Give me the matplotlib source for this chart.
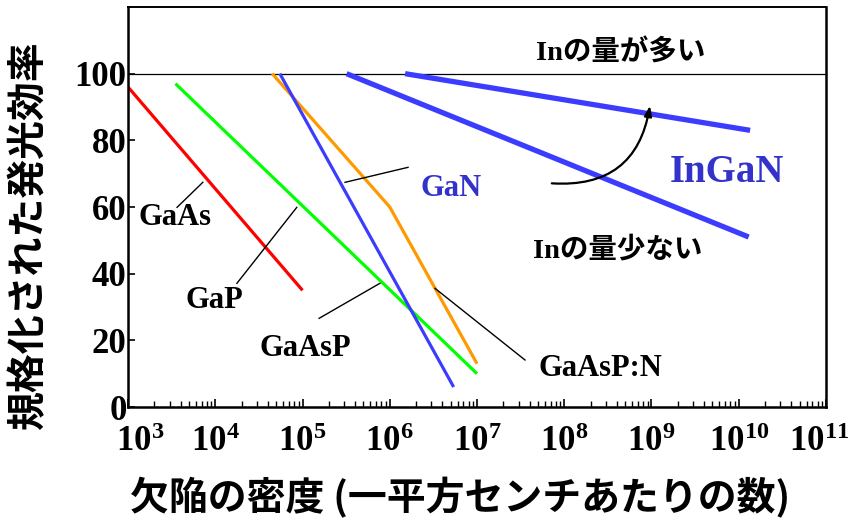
import matplotlib
matplotlib.use("Agg")
import matplotlib.pyplot as plt
import matplotlib.transforms as mtransforms
from matplotlib.ticker import FixedLocator, NullFormatter, LogLocator

plt.rcParams['mathtext.fontset'] = 'custom'
plt.rcParams['mathtext.rm'] = 'Liberation Serif:bold'
plt.rcParams['mathtext.bf'] = 'Liberation Serif:bold'
plt.rcParams['mathtext.it'] = 'Liberation Serif:bold'

# ---- data ----
gaas_x = [1e3, 1e5]
gaas_y = [96, 35]
gap_x = [3.5e3, 1e7]
gap_y = [97, 10]
gan_x = [5.5e4, 5.4e6]
gan_y = [100, 6]
gaaspn_x = [4.5e4, 1e6, 1e7]
gaaspn_y = [100, 60, 13]
ingan_low_x = [3.2e5, 1.3e10]
ingan_low_y = [100, 51]
ingan_high_x = [1.5e6, 1.35e10]
ingan_high_y = [100, 83]

x_ticks = [1e3, 1e4, 1e5, 1e6, 1e7, 1e8, 1e9, 1e10, 1e11]
x_exps = [3, 4, 5, 6, 7, 8, 9, 10, 11]
y_ticks = [0, 20, 40, 60, 80, 100]

serif = 'Liberation Serif'
cjk = 'Noto Sans CJK JP'
mixed = [serif, cjk]

fig = plt.figure(figsize=(8.53, 5.28), dpi=100)
ax = fig.add_axes([128/853, 1-407/528, (826-128)/853, (407-7)/528])
ax.set_xscale('log')
ax.set_xlim(1e3, 1e11)
ax.set_ylim(0, 120)

blue_line = '#3c3cff'
blue_text = '#3333cc'

ax.axhline(100, color='black', lw=0.9)

ax.plot(gaas_x, gaas_y, color='#ff0000', lw=2.3, solid_capstyle='butt')
ax.plot(gap_x, gap_y, color='#00ff00', lw=2.3, solid_capstyle='butt')
ax.plot(gaaspn_x, gaaspn_y, color='#ff9900', lw=2.3, solid_capstyle='butt')
ax.plot(gan_x, gan_y, color=blue_line, lw=2.3, solid_capstyle='butt')
ax.plot(ingan_low_x, ingan_low_y, color=blue_line, lw=3.8, solid_capstyle='butt')
ax.plot(ingan_high_x, ingan_high_y, color=blue_line, lw=3.8, solid_capstyle='butt')

# leader lines
leaders = [
    ((3.65e3, 59.9), (7.2e3, 67.4)),
    ((1.77e4, 37.1), (8.6e4, 59.9)),
    ((1.55e5, 26.6), (7.7e5, 37.1)),
    ((3.3e6, 35.6), (3.55e7, 14.1)),
    ((3.07e5, 67.4), (1.62e6, 71.9)),
]
for (p0, p1) in leaders:
    ax.plot([p0[0], p1[0]], [p0[1], p1[1]], color='black', lw=1.0)

# curved arrow
ax.annotate('', xy=(9.6e8, 90.4), xytext=(7.2e7, 67.1),
            arrowprops=dict(arrowstyle='-|>,head_length=0.6,head_width=0.22',
                            connectionstyle='arc3,rad=0.45', color='black', lw=1.6,
                            shrinkA=0, shrinkB=0))

tk = dict(ha='center', va='center', fontweight='bold')
ax.text(3.46e3, 56.9, 'GaAs', family=serif, fontsize=22, **tk)
ax.text(9.9e3, 32, 'GaP', family=serif, fontsize=22, **tk)
ax.text(1.07e5, 17.4, 'GaAsP', family=serif, fontsize=22, **tk)
ax.text(2.6e8, 11.7, 'GaAsP:N', family=serif, fontsize=22, **tk)
ax.text(5.0e6, 65.6, 'GaN', family=serif, fontsize=22, color=blue_text, **tk)
ax.text(7.3e9, 70.4, 'InGaN', family=serif, fontsize=28, color=blue_text, **tk)
ax.text(4.4e8, 106.3, 'Inの量が多い', family=mixed, fontsize=20.5, **tk)
ax.text(4.1e8, 47, 'Inの量少ない', family=mixed, fontsize=20.5, **tk)

# ticks
ax.xaxis.set_major_locator(FixedLocator(x_ticks))
ax.xaxis.set_minor_locator(LogLocator(base=10, subs=[2, 3, 4, 5, 6, 7, 8, 9], numticks=20))
ax.xaxis.set_minor_formatter(NullFormatter())
ax.set_xticklabels([r'$10^{%d}$' % e for e in x_exps], fontsize=25)
ax.tick_params(axis='x', which='major', direction='in', length=6, width=1.2, pad=12, top=False)
ax.tick_params(axis='x', which='minor', direction='in', length=4, width=1.0, top=False)
ax.set_yticks(y_ticks)
ax.set_yticklabels([str(v) for v in y_ticks], family=serif, fontweight='bold', fontsize=25)
ax.tick_params(axis='y', which='major', direction='in', length=5, width=1.2, pad=1, right=False)
ax.tick_params(axis='y', which='minor', left=False)

# nudge edge x labels inward
labels = ax.get_xticklabels()
labels[0].set_transform(labels[0].get_transform() + mtransforms.ScaledTranslation(12/100, 0, fig.dpi_scale_trans))
labels[-1].set_transform(labels[-1].get_transform() + mtransforms.ScaledTranslation(-7/100, 0, fig.dpi_scale_trans))

for s in ['left', 'bottom', 'right']:
    ax.spines[s].set_linewidth(1.8)
ax.spines['top'].set_linewidth(1.4)

fig.text(29/853, 1-236/528, '規格化された発光効率', rotation=90, family=cjk,
         fontweight='bold', fontsize=28, ha='center', va='center')
fig.text(460/853, 1-498/528, '欠陥の密度 (一平方センチあたりの数)', family=cjk,
         fontweight='bold', fontsize=28, ha='center', va='center')

fig.savefig('out.png', dpi=100)
